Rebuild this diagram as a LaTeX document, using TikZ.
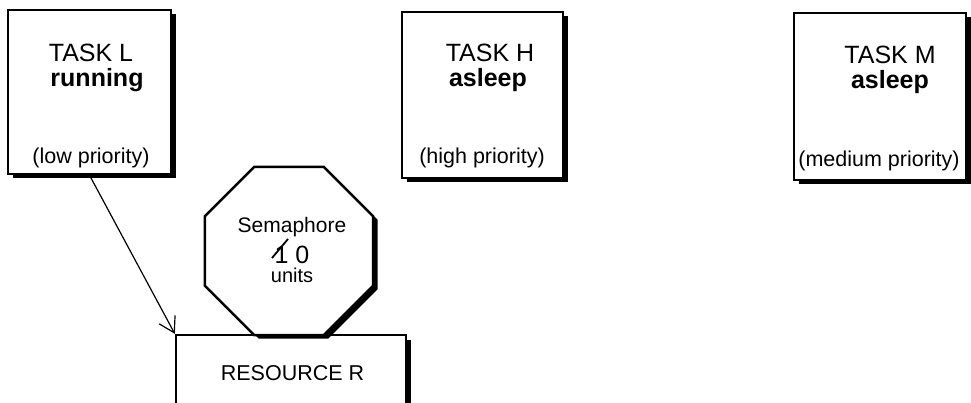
\documentclass[tikz,border=0pt]{standalone}
\usepackage{fontspec}
\setmainfont{Liberation Sans}
\usetikzlibrary{shapes.geometric,shadows,arrows.meta}

\begin{document}
\begin{tikzpicture}[x=1pt,y=-1pt,
  box/.style={draw,line width=2.4pt,fill=white,inner sep=0pt,
    drop shadow={shadow xshift=4.5pt,shadow yshift=-4.5pt,opacity=1,fill=black}},
  octo/.style={regular polygon,regular polygon sides=8,minimum size=182pt,
    draw,line width=2.4pt,fill=white,inner sep=0pt,
    drop shadow={shadow xshift=4.5pt,shadow yshift=-3.5pt,opacity=1,fill=black}},
  lbl/.style={anchor=base,inner sep=0pt},
  title/.style={lbl,font=\fontsize{25}{25}\selectfont},
  state/.style={lbl,font=\fontsize{25}{25}\selectfont\bfseries},
  prio/.style={lbl,font=\fontsize{21.5}{21.5}\selectfont},
  link/.style={line width=1.2pt,-{Straight Barb[length=15pt,width=18pt,line width=1.2pt]}}
]
\useasboundingbox (0,0) rectangle (971,403);

% the three tasks
\node[box,minimum width=163pt,minimum height=164pt] (taskL) at (89.5,92) {};
\node[title] (Lname)  at (91,62)  {TASK L};
\node[state] (Lstate) at (97,87)  {running};
\node[prio]  (Lprio)  at (91,164) {(low priority)};

\node[box,minimum width=161pt,minimum height=166pt] (taskH) at (482.5,95) {};
\node[title] (Hname)  at (490,62)  {TASK H};
\node[state] (Hstate) at (488,87)  {asleep};
\node[prio]  (Hprio)  at (482,164) {(high priority)};

\node[box,minimum width=172pt,minimum height=167pt] (taskM) at (880,96.5) {};
\node[title] (Mname)  at (890,64)  {TASK M};
\node[state] (Mstate) at (890,89)  {asleep};
\node[prio]  (Mprio)  at (879,167) {(medium priority)};

% the shared resource and its semaphore
\node[box,minimum width=230pt,minimum height=85pt] (resR) at (291,377.5) {};
\node[prio] (resRname) at (292.5,380) {RESOURCE R};

\node[octo] (sem) at (289,251) {};
\node[lbl,font=\fontsize{21}{21}\selectfont] (semname) at (292,233) {Semaphore};
\node[lbl,font=\fontsize{25}{25}\selectfont] (semcount) at (292,263) {1 0};
\node[lbl,font=\fontsize{20}{20}\selectfont] (semunits) at (292,283) {units};
\coordinate (strikeA) at (272,258);
\coordinate (strikeB) at (288,239);
\draw[line width=1.8pt] (strikeA) -- (strikeB);

% task L holds the resource
\draw[link] (taskL.south) -- (resR.north west);
\end{tikzpicture}
\end{document}
